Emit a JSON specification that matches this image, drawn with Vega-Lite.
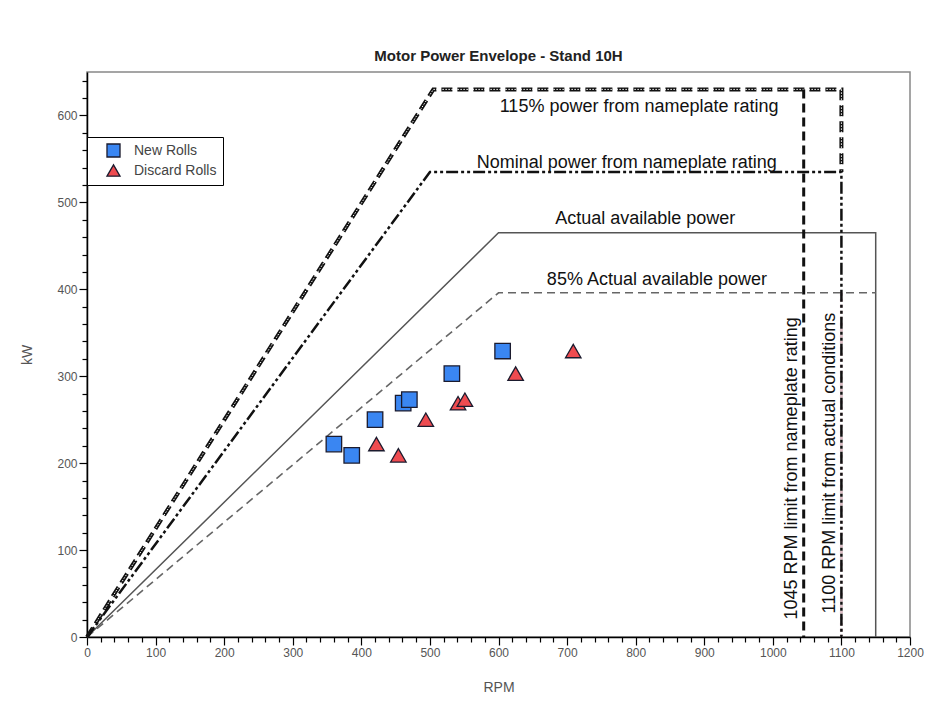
{
  "$schema": "https://vega.github.io/schema/vega-lite/v6.json",
  "width": 823,
  "height": 565,
  "autosize": "none",
  "padding": {"left": 87, "top": 72, "right": 26, "bottom": 73},
  "background": "white",
  "title": {"text": "Motor Power Envelope - Stand 10H", "font": "Liberation Sans", "fontSize": 15, "fontWeight": "bold", "color": "#222", "anchor": "middle", "offset": 8},
  "config": {
    "font": "Liberation Sans",
    "view": {"stroke": "#888", "strokeWidth": 1.5},
    "axis": {"grid": false, "domainColor": "#000", "domainWidth": 1.5, "tickColor": "#000", "tickWidth": 1.2, "labelColor": "#555", "labelFontSize": 12, "titleColor": "#555", "titleFontSize": 14, "titleFontWeight": "normal", "labelOverlap": false, "labelFlush": false, "format": "d"}
  },
  "datasets": {
    "lines": [
      {"series": "115", "ord": 1, "rpm": 0, "kw": 0},
      {"series": "115", "ord": 2, "rpm": 505, "kw": 630},
      {"series": "115", "ord": 3, "rpm": 1100, "kw": 630},
      {"series": "115", "ord": 4, "rpm": 1100, "kw": 535},
      {"series": "nom", "ord": 1, "rpm": 0, "kw": 0},
      {"series": "nom", "ord": 2, "rpm": 500, "kw": 535},
      {"series": "nom", "ord": 3, "rpm": 1100, "kw": 535},
      {"series": "nom", "ord": 4, "rpm": 1100, "kw": 0},
      {"series": "pink", "ord": 1, "rpm": 1100, "kw": 396},
      {"series": "pink", "ord": 2, "rpm": 1100, "kw": 0},
      {"series": "act", "ord": 1, "rpm": 0, "kw": 0},
      {"series": "act", "ord": 2, "rpm": 600, "kw": 465},
      {"series": "act", "ord": 3, "rpm": 1150, "kw": 465},
      {"series": "act", "ord": 4, "rpm": 1150, "kw": 0},
      {"series": "p85", "ord": 1, "rpm": 0, "kw": 0},
      {"series": "p85", "ord": 2, "rpm": 600, "kw": 396},
      {"series": "p85", "ord": 3, "rpm": 1150, "kw": 396},
      {"series": "lim", "ord": 1, "rpm": 1045, "kw": 630},
      {"series": "lim", "ord": 2, "rpm": 1045, "kw": 0}
    ],
    "points": [
      {"rolls": "New Rolls", "rpm": 360, "kw": 222},
      {"rolls": "New Rolls", "rpm": 386, "kw": 209},
      {"rolls": "New Rolls", "rpm": 420, "kw": 250},
      {"rolls": "New Rolls", "rpm": 461, "kw": 269},
      {"rolls": "New Rolls", "rpm": 470, "kw": 273},
      {"rolls": "New Rolls", "rpm": 532, "kw": 303},
      {"rolls": "New Rolls", "rpm": 606, "kw": 329},
      {"rolls": "Discard Rolls", "rpm": 422, "kw": 222},
      {"rolls": "Discard Rolls", "rpm": 454, "kw": 209},
      {"rolls": "Discard Rolls", "rpm": 494, "kw": 250},
      {"rolls": "Discard Rolls", "rpm": 541, "kw": 269},
      {"rolls": "Discard Rolls", "rpm": 551, "kw": 273},
      {"rolls": "Discard Rolls", "rpm": 625, "kw": 303},
      {"rolls": "Discard Rolls", "rpm": 709, "kw": 329}
    ],
    "labels": [
      {"text": "115% power from nameplate rating", "rpm": 805, "kw": 610, "angle": 0},
      {"text": "Nominal power from nameplate rating", "rpm": 787, "kw": 545, "angle": 0},
      {"text": "Actual available power", "rpm": 814, "kw": 481, "angle": 0},
      {"text": "85% Actual available power", "rpm": 831, "kw": 411, "angle": 0},
      {"text": "1045 RPM limit from nameplate rating", "rpm": 1028, "kw": 194, "angle": 270},
      {"text": "1100 RPM limit from actual conditions", "rpm": 1084, "kw": 200, "angle": 270}
    ]
  },
  "encoding": {
    "x": {"field": "rpm", "type": "quantitative", "scale": {"domain": [0, 1200], "nice": false},
      "axis": {"title": "RPM", "titlePadding": 22,
        "values": [0,20,40,60,80,100,120,140,160,180,200,220,240,260,280,300,320,340,360,380,400,420,440,460,480,500,520,540,560,580,600,620,640,660,680,700,720,740,760,780,800,820,840,860,880,900,920,940,960,980,1000,1020,1040,1060,1080,1100,1120,1140,1160,1180,1200],
        "labelExpr": "datum.value % 100 === 0 ? datum.label : ''",
        "tickSize": {"condition": {"test": "datum.value % 100 === 0", "value": 8}, "value": 5}}},
    "y": {"field": "kw", "type": "quantitative", "scale": {"domain": [0, 650], "nice": false},
      "axis": {"title": "kW", "titlePadding": 22,
        "values": [0,20,40,60,80,100,120,140,160,180,200,220,240,260,280,300,320,340,360,380,400,420,440,460,480,500,520,540,560,580,600,620,640],
        "labelExpr": "datum.value % 100 === 0 ? datum.label : ''",
        "tickSize": {"condition": {"test": "datum.value % 100 === 0", "value": 8}, "value": 5}}}
  },
  "layer": [
    {"data": {"name": "lines"}, "transform": [{"filter": "datum.series === 'act'"}],
      "mark": {"type": "line", "color": "#555", "strokeWidth": 1.5},
      "encoding": {"order": {"field": "ord", "type": "quantitative"}}},
    {"data": {"name": "lines"}, "transform": [{"filter": "datum.series === 'p85'"}],
      "mark": {"type": "line", "color": "#666", "strokeWidth": 1.6, "strokeDash": [8, 5]},
      "encoding": {"order": {"field": "ord", "type": "quantitative"}}},
    {"data": {"name": "lines"}, "transform": [{"filter": "datum.series === 'pink'"}],
      "mark": {"type": "line", "color": "#d9bcc4", "strokeWidth": 3, "strokeDash": [3, 3]},
      "encoding": {"order": {"field": "ord", "type": "quantitative"}}},
    {"data": {"name": "lines"}, "transform": [{"filter": "datum.series === '115'"}],
      "mark": {"type": "line", "color": "#111", "strokeWidth": 4, "strokeDash": [11, 5]},
      "encoding": {"order": {"field": "ord", "type": "quantitative"}}},
    {"data": {"name": "lines"}, "transform": [{"filter": "datum.series === '115'"}],
      "mark": {"type": "line", "color": "#fff", "strokeWidth": 1, "strokeDash": [1.5, 1.5]},
      "encoding": {"order": {"field": "ord", "type": "quantitative"}}},
    {"data": {"name": "lines"}, "transform": [{"filter": "datum.series === 'nom'"}],
      "mark": {"type": "line", "color": "#111", "strokeWidth": 2.5, "strokeDash": [12, 3, 3, 3, 3, 3]},
      "encoding": {"order": {"field": "ord", "type": "quantitative"}}},
    {"data": {"name": "lines"}, "transform": [{"filter": "datum.series === 'lim'"}],
      "mark": {"type": "line", "color": "#111", "strokeWidth": 3, "strokeDash": [9, 5]},
      "encoding": {"order": {"field": "ord", "type": "quantitative"}}},
    {"data": {"name": "labels"},
      "mark": {"type": "text", "fontSize": 18, "color": "#111", "align": "center", "baseline": "middle"},
      "encoding": {"text": {"field": "text"}, "angle": {"field": "angle", "type": "quantitative", "scale": null}}},
    {"data": {"name": "points"},
      "mark": {"type": "point", "filled": true, "opacity": 1, "size": 240, "stroke": "#1b1b2e", "strokeWidth": 1.3},
      "encoding": {
        "color": {"field": "rolls", "type": "nominal", "scale": {"domain": ["New Rolls", "Discard Rolls"], "range": ["#3a86f2", "#ee4b50"]},
          "legend": {"title": null, "orient": "none", "legendX": 0, "legendY": 65, "strokeColor": "#000", "fillColor": "#fff", "padding": 6, "symbolOffset": 13, "labelOffset": 13, "labelFontSize": 14, "labelColor": "#444", "symbolSize": 170, "symbolStrokeColor": "#1b1b2e", "symbolStrokeWidth": 1.3, "rowPadding": 2, "labelLimit": 300}},
        "shape": {"field": "rolls", "type": "nominal", "scale": {"domain": ["New Rolls", "Discard Rolls"], "range": ["square", "triangle-up"]}, "legend": null}
      }}
  ]
}
